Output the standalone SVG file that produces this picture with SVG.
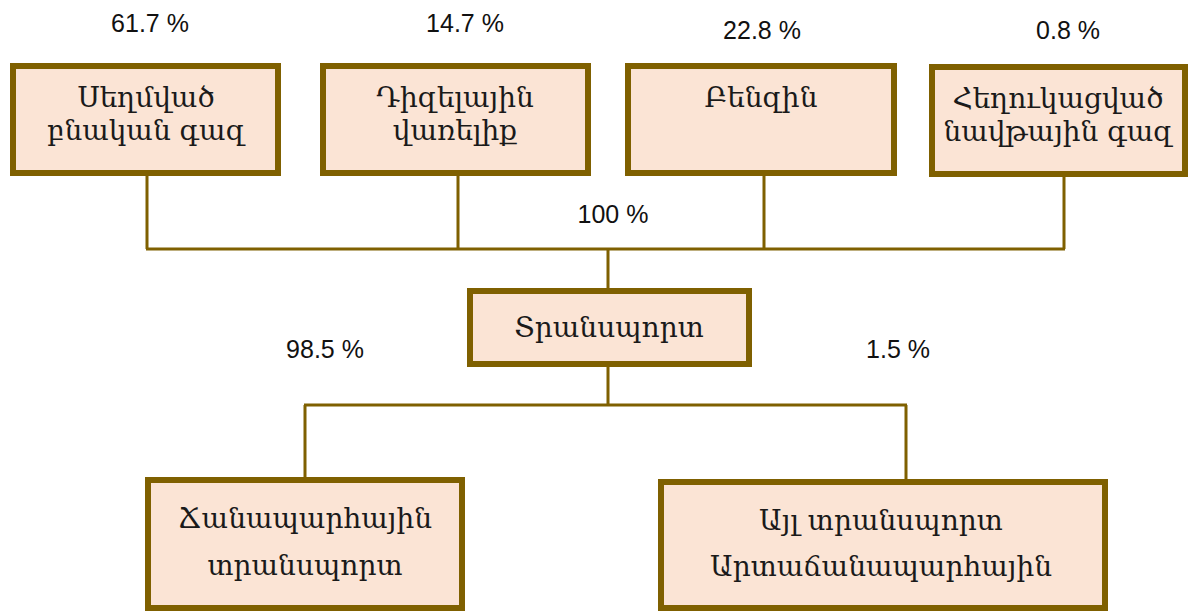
<svg xmlns="http://www.w3.org/2000/svg" width="1191" height="613" viewBox="0 0 1191 613">
  <style>
    .box { fill: #fbe4d5; stroke: #7f6000; stroke-width: 6; }
    .lbl { font-family: "DejaVu Serif", "Noto Serif", serif; font-size: 28px; fill: #1a1a1a; text-anchor: middle; }
    .pct { font-family: "Liberation Sans", Arial, sans-serif; font-size: 25px; fill: #111; text-anchor: middle; }
    .wire { stroke: #7f6000; stroke-width: 3; fill: none; }
  </style>
  <rect width="1191" height="613" fill="#ffffff"/>

  <!-- connectors -->
  <g id="connectors">
    <path class="wire" d="M147 176 V249 M458 176 V249 M764 176 V249 M1064 176 V249 M146 249 H1065 M608 249 V288"/>
    <path class="wire" d="M608 367 V405 M304 405 H907 M305 405 V477 M906 405 V479"/>
  </g>

  <!-- fuel sources -->
  <g id="node-cng">
    <rect class="box" x="13" y="66" width="265" height="107"/>
    <text class="lbl" x="146" y="107">Սեղմված</text>
    <text class="lbl" x="146" y="140">բնական գազ</text>
  </g>
  <g id="node-diesel">
    <rect class="box" x="323" y="66" width="265" height="107"/>
    <text class="lbl" x="455" y="107">Դիզելային</text>
    <text class="lbl" x="455" y="140">վառելիք</text>
  </g>
  <g id="node-petrol">
    <rect class="box" x="628" y="66" width="266" height="107"/>
    <text class="lbl" x="761" y="107">Բենզին</text>
  </g>
  <g id="node-lpg">
    <rect class="box" x="932" y="67" width="253" height="107"/>
    <text class="lbl" x="1058" y="108">Հեղուկացված</text>
    <text class="lbl" x="1058" y="141">նավթային գազ</text>
  </g>

  <!-- transport -->
  <g id="node-transport">
    <rect class="box" x="470" y="291" width="279" height="73"/>
    <text class="lbl" x="609" y="337">Տրանսպորտ</text>
  </g>
  <g id="node-road">
    <rect class="box" x="148" y="480" width="314" height="128"/>
    <text class="lbl" x="305" y="528">Ճանապարհային</text>
    <text class="lbl" x="305" y="575">տրանսպորտ</text>
  </g>
  <g id="node-offroad">
    <rect class="box" x="661" y="482" width="444" height="126"/>
    <text class="lbl" x="881" y="530">Այլ տրանսպորտ</text>
    <text class="lbl" x="881" y="576">Արտաճանապարհային</text>
  </g>

  <!-- shares -->
  <g id="shares">
    <text class="pct" x="150" y="32">61.7 %</text>
    <text class="pct" x="465" y="32">14.7 %</text>
    <text class="pct" x="762" y="39">22.8 %</text>
    <text class="pct" x="1068" y="39">0.8 %</text>
    <text class="pct" x="613" y="223">100 %</text>
    <text class="pct" x="325" y="358">98.5 %</text>
    <text class="pct" x="898" y="358">1.5 %</text>
  </g>
</svg>
